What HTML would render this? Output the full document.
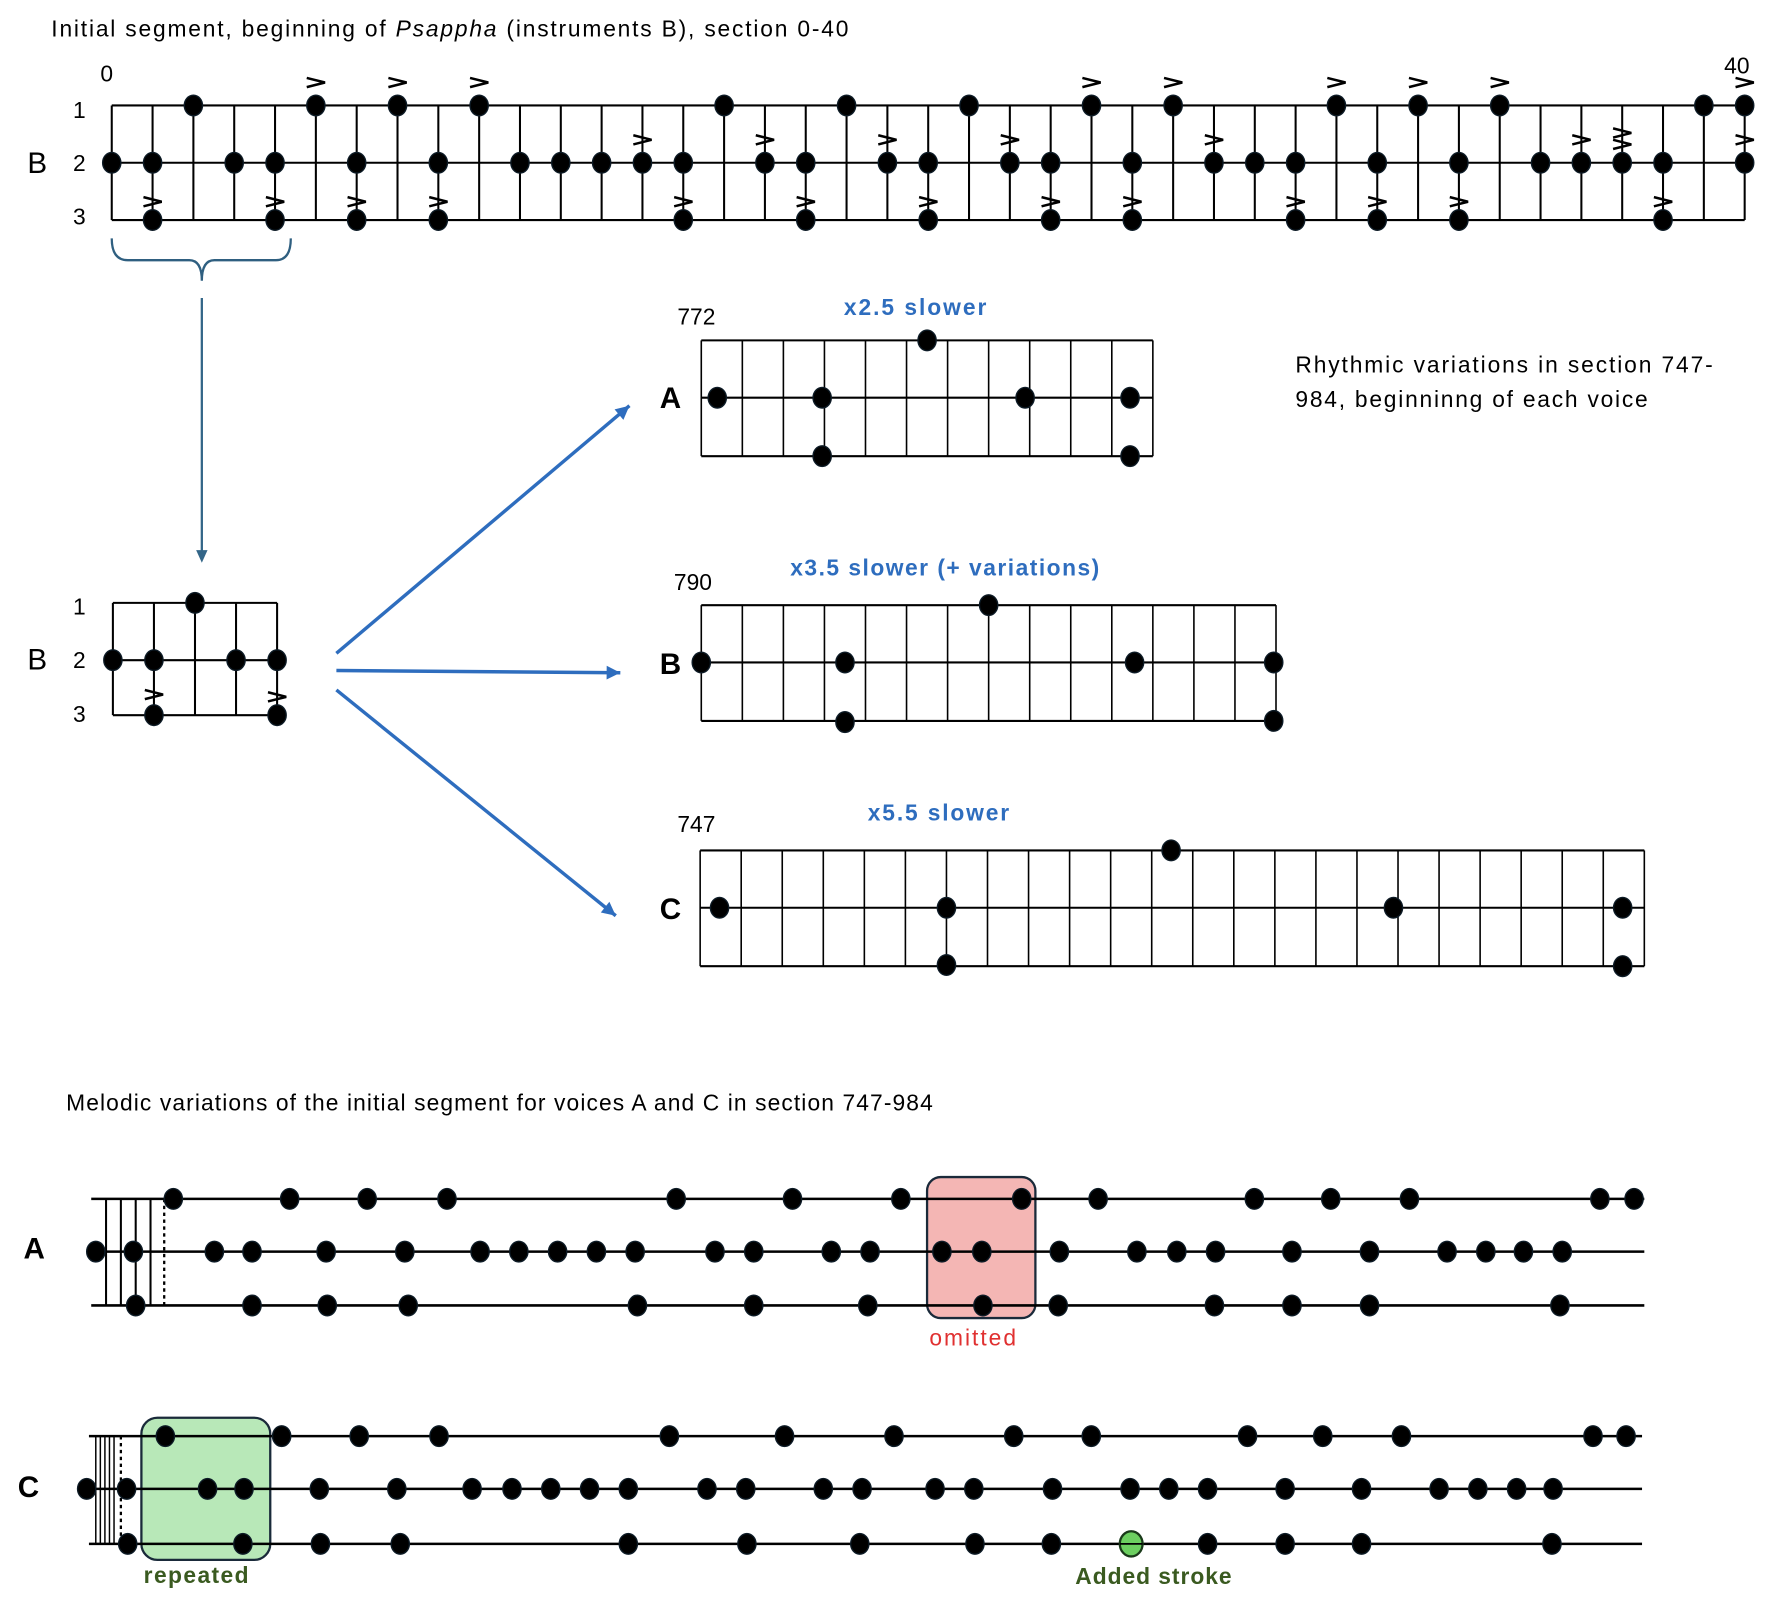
<!DOCTYPE html>
<html><head><meta charset="utf-8"><style>
html,body{margin:0;padding:0;background:#fff;width:1788px;height:1600px;overflow:hidden}
svg{display:block}
text{font-family:"Liberation Sans",sans-serif}
</style></head><body>
<svg id="s" width="1788" height="1600" viewBox="0 0 1568 1396" preserveAspectRatio="none" xmlns="http://www.w3.org/2000/svg">
<g id="g"></g>
<g font-size="20" fill="#000">
<text x="45" y="32" textLength="699" lengthAdjust="spacing">Initial segment, beginning of <tspan font-style="italic">Psappha</tspan> (instruments B), section 0-40</text>
<text x="88" y="71">0</text>
<text x="1512" y="64">40</text>
<text x="64" y="103">1</text><text x="64" y="149">2</text><text x="64" y="196">3</text>
<text x="24" y="151" font-size="26">B</text>
<text x="64" y="536">1</text><text x="64" y="583">2</text><text x="64" y="630">3</text>
<text x="24" y="584" font-size="26">B</text>
<text x="594" y="283">772</text>
<text x="591" y="515">790</text>
<text x="594" y="726">747</text>
<text x="1136" y="325" textLength="366" lengthAdjust="spacing">Rhythmic variations in section 747-</text>
<text x="1136" y="355" textLength="309" lengthAdjust="spacing">984, beginninng of each voice</text>
<text x="58" y="969" textLength="760" lengthAdjust="spacing">Melodic variations of the initial segment for voices A and C in section 747-984</text>
</g>
<g font-weight="bold" font-size="20" fill="#2E6DBE">
<text x="740" y="275" textLength="125" lengthAdjust="spacing">x2.5 slower</text>
<text x="693" y="502" textLength="271" lengthAdjust="spacing">x3.5 slower (+ variations)</text>
<text x="761" y="716" textLength="124" lengthAdjust="spacing">x5.5 slower</text>
</g>
<g font-weight="bold" font-size="26" fill="#000" text-anchor="middle">
<text x="588" y="356">A</text>
<text x="588" y="588">B</text>
<text x="588" y="802">C</text>
<text x="30" y="1098">A</text>
<text x="25" y="1306">C</text>
</g>
<g font-size="20">
<text x="815" y="1174" fill="#E03030" textLength="76" lengthAdjust="spacing">omitted</text>
<text x="126" y="1381" fill="#3A5A20" font-weight="bold" textLength="92" lengthAdjust="spacing">repeated</text>
<text x="943" y="1382" fill="#3A5A20" font-weight="bold" textLength="137" lengthAdjust="spacing">Added stroke</text>
</g>
</svg>
<script>
var g=document.getElementById('g'),h='';
function L(x1,y1,x2,y2,c,w,extra){h+='<line x1="'+x1+'" y1="'+y1+'" x2="'+x2+'" y2="'+y2+'" stroke="'+(c||'#000')+'" stroke-width="'+(w||1.8)+'" '+(extra||'')+'/>';}
function D(x,y,f){h+='<ellipse cx="'+x+'" cy="'+y+'" rx="8" ry="9" fill="'+(f||'#000')+'" stroke="#0d1b26" stroke-width="1.2"/>';}
function Acc(x,y){h+='<polyline points="'+(x-8)+','+(y-4)+' '+(x+8)+','+y+' '+(x-8)+','+(y+4)+'" fill="none" stroke="#000" stroke-width="2.2"/>';}
var x0=98,dx=35.8,R=[92,142,192];
for(var r=0;r<3;r++)L(x0,R[r],1530,R[r]);
for(var i=0;i<=40;i++){var x=x0+dx*i;L(x,92,x,192);}
var spec={0:'2',1:'2 3a',2:'1',3:'2',4:'2 3a',5:'1a',6:'2 3a',7:'1a',8:'2 3a',9:'1a',10:'2',11:'2',12:'2',13:'2a',14:'2 3a',15:'1',16:'2a',17:'2 3a',18:'1',19:'2a',20:'2 3a',21:'1',22:'2a',23:'2 3a',24:'1a',25:'2 3a',26:'1a',27:'2a',28:'2',29:'2 3a',30:'1a',31:'2 3a',32:'1a',33:'2 3a',34:'1a',35:'2',36:'2a',37:'2A',38:'2 3a',39:'1',40:'1a 2a'};
for(var k in spec){var x=x0+dx*k;spec[k].split(' ').forEach(function(t){var y=R[+t[0]-1];D(x,y);if(t[1]=='a'){Acc(x,y-20+(t[0]=='3'?4:0));}if(t[1]=='A'){Acc(x,y-16);Acc(x,y-26);}});}
h+='<path d="M98,208 Q98,227 112,227 L166,227 Q177,227 177,245 Q177,227 188,227 L242,227 Q255,227 255,208" fill="none" stroke="#2F5F80" stroke-width="2"/>';
L(177,260,177,482,'#336688',2);
h+='<polygon points="172,480 182,480 177,491" fill="#336688"/>';
[526,576,624].forEach(function(y){L(99,y,243,y);});
[99,135,171,207,243].forEach(function(x){L(x,526,x,624);});
D(99,576);D(135,576);D(207,576);D(243,576);D(171,526);D(135,624);D(243,624);Acc(135,606);Acc(243,608);
function BA(x1,y1,x2,y2){L(x1,y1,x2,y2,'#2E6DBE',3);var a=Math.atan2(y2-y1,x2-x1),s=12,w=6;
var bx=x2-s*Math.cos(a),by=y2-s*Math.sin(a);
h+='<polygon points="'+x2+','+y2+' '+(bx+w*Math.sin(a))+','+(by-w*Math.cos(a))+' '+(bx-w*Math.sin(a))+','+(by+w*Math.cos(a))+'" fill="#2E6DBE"/>';}
BA(295,570,552,354);BA(295,585,544,587);BA(295,602,540,799);
function grid(xl,n,yt,ym,yb){var w=36;var xr=xl+n*w;[yt,ym,yb].forEach(function(y){L(xl,y,xr,y);});for(var i=0;i<=n;i++)L(xl+i*w,yt,xl+i*w,yb,'#000',1.4);}
grid(615,11,297,347,398);
D(629,347);D(721,347);D(899,347);D(991,347);D(813,297);D(721,398);D(991,398);
grid(615,14,528,578,629);
D(615,578);D(741,578);D(995,578);D(1117,578);D(867,528);D(741,630);D(1117,629);
grid(614,23,742,792,843);
D(631,792);D(830,792);D(1222,792);D(1423,792);D(1027,742);D(830,842);D(1423,843);
h+='<rect x="813" y="1027" width="95" height="123" rx="12" fill="#F4B6B4" stroke="#1a2a3a" stroke-width="2"/>';
[1046,1092,1139].forEach(function(y){L(80,y,1442,y,'#000',2.2);});
[93,106,119,132].forEach(function(x){L(x,1046,x,1139,'#000',1.8);});
L(144,1046,144,1139,'#000',2,'stroke-dasharray="3,3"');
[152,254,322,392,593,695,790,896,963,1100,1167,1236,1403,1433].forEach(function(x){D(x,1046);});
[84,117,188,221,286,355,421,455,489,523,557,627,661,729,763,826,861,929,997,1032,1066,1133,1201,1269,1303,1336,1370].forEach(function(x){D(x,1092);});
[119,221,287,358,559,661,761,862,928,1065,1133,1201,1368].forEach(function(x){D(x,1139);});
h+='<rect x="124" y="1237" width="113" height="124" rx="14" fill="#B8E8B8" stroke="#1a2a3a" stroke-width="2"/>';
[1253,1299,1347].forEach(function(y){L(78,y,1440,y,'#000',2.2);});
[84,88,92,96,100].forEach(function(x){L(x,1253,x,1347,'#000',1.3);});
L(106,1253,106,1347,'#000',2,'stroke-dasharray="3,3"');
[145,247,315,385,587,688,784,889,957,1094,1160,1229,1397,1426].forEach(function(x){D(x,1253);});
[76,111,182,214,280,348,414,449,483,517,551,620,654,722,756,820,854,923,991,1025,1059,1127,1194,1262,1296,1330,1362].forEach(function(x){D(x,1299);});
[112,213,281,351,551,655,754,855,922,1059,1127,1194,1361].forEach(function(x){D(x,1347);});
h+='<ellipse cx="992" cy="1347" rx="10" ry="11" fill="#6CCF60" stroke="#1a3a1a" stroke-width="2"/>';
L(982,1347,1002,1347,'#000',1.5);
g.innerHTML=h;
</script>
</body></html>
